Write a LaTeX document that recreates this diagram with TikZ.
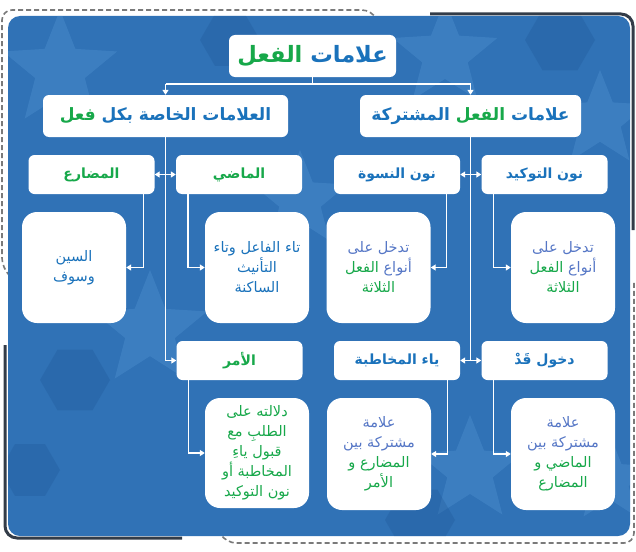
\documentclass[tikz,border=0pt]{standalone}
\usepackage{fontspec}
\usetikzlibrary{arrows.meta,shapes.geometric}
\TeXXeTstate=1
\newfontfamily\arabicfont[Script=Arabic]{DejaVu Sans}
\definecolor{tblue}{HTML}{1A72BB}
\definecolor{tgreen}{HTML}{17A84A}
\definecolor{pblue}{HTML}{5677C6}
\definecolor{bgblue}{HTML}{3072B6}
\definecolor{bglight}{HTML}{5A9BDA}
\definecolor{bgdark}{HTML}{1F5797}
\definecolor{framedark}{HTML}{333C48}
\definecolor{dashgray}{HTML}{7A7A7A}
\begin{document}
\begin{tikzpicture}[x=1pt,y=-1pt,
  hbox/.style={fill=white, rounded corners=6pt, inner sep=0pt, font=\arabicfont\bfseries},
  bodybox/.style={fill=white, rounded corners=15pt, inner sep=0pt, align=center,
    font=\arabicfont\fontsize{14.5}{20}\selectfont},
  wl/.style={draw=white, line width=1.4pt},
  tip/.style={-{Triangle[width=6pt,length=5pt]}},
  dtip/.style={{Triangle[width=6pt,length=5pt]}-{Triangle[width=6pt,length=5pt]}},
  lstar/.style={star, star points=5, star point ratio=2.3, fill=bglight, fill opacity=0.3, draw=none},
  dhex/.style={regular polygon, regular polygon sides=6, fill=bgdark, fill opacity=0.3, draw=none}
]
\useasboundingbox (0,0) rectangle (636,551);
% frames
\draw[dashgray, line width=1.6pt, dash pattern=on 5pt off 3pt, rounded corners=10pt]
  (10,276) -- (2,268) -- (2,10) -- (372,10) -- (378,22);
\draw[dashgray, line width=1.6pt, dash pattern=on 5pt off 3pt, rounded corners=10pt]
  (218,530) -- (226,543) -- (634,543) -- (634,282);
\draw[framedark, line width=3pt, rounded corners=12pt]
  (430,14) -- (633,14) -- (633,230);
\draw[framedark, line width=3pt, rounded corners=12pt]
  (5,345) -- (5,538) -- (182,538);
% background
\fill[bgblue, rounded corners=12pt] (8,16) rectangle (630,536);
\begin{scope}
\clip[rounded corners=12pt] (8,16) rectangle (630,536);
\node[lstar, minimum size=120pt] (s1) at (60,70) {};
\node[lstar, minimum size=110pt] (s2) at (445,55) {};
\node[lstar, minimum size=100pt] (s3) at (600,120) {};
\node[lstar, minimum size=120pt] (s4) at (150,330) {};
\node[lstar, minimum size=110pt] (s5) at (470,470) {};
\node[lstar, minimum size=90pt] (s6) at (610,480) {};
\node[lstar, minimum size=100pt] (s7) at (300,200) {};
\node[dhex, minimum size=70pt] (h1) at (75,380) {};
\node[dhex, minimum size=60pt] (h2) at (30,470) {};
\node[dhex, minimum size=70pt] (h3) at (560,40) {};
\node[dhex, minimum size=60pt] (h4) at (230,40) {};
\node[dhex, minimum size=70pt] (h5) at (420,520) {};
\end{scope}
% level 1
\node[hbox, minimum width=167pt, minimum height=42pt, font=\arabicfont\bfseries\fontsize{22.5}{26}\selectfont] (t) at (312.5,56)
  {\textcolor{tgreen}{\beginR الفعل\endR} \textcolor{tblue}{\beginR علامات\endR}};
% level 2
\node[hbox, minimum width=245pt, minimum height=42pt, font=\arabicfont\bfseries\fontsize{17}{20}\selectfont] (spec) at (165.5,116)
  {\textcolor{tgreen}{\beginR فعل\endR} \textcolor{tblue}{\beginR العلامات الخاصة بكل\endR}};
\node[hbox, minimum width=221pt, minimum height=42pt, font=\arabicfont\bfseries\fontsize{17}{20}\selectfont] (comm) at (470.5,116)
  {\textcolor{tblue}{\beginR المشتركة\endR} \textcolor{tgreen}{\beginR الفعل\endR} \textcolor{tblue}{\beginR علامات\endR}};
% level 3
\tikzset{l3/.style={hbox, minimum width=126pt, minimum height=39pt, font=\arabicfont\bfseries\fontsize{14}{16}\selectfont}}
\node[l3] (mud) at (91.5,174.5) {\textcolor{tgreen}{\beginR المضارع\endR}};
\node[l3] (mad) at (239,174.5) {\textcolor{tgreen}{\beginR الماضي\endR}};
\node[l3] (nis) at (397,174.5) {\textcolor{tblue}{\beginR نون النسوة\endR}};
\node[l3] (taw) at (544.5,174.5) {\textcolor{tblue}{\beginR نون التوكيد\endR}};
\node[l3] (amr) at (239.5,360.5) {\textcolor{tgreen}{\beginR الأمر\endR}};
\node[l3] (ya) at (397,360.5) {\textcolor{tblue}{\beginR ياء المخاطبة\endR}};
\node[l3] (qad) at (544.5,360.5) {\textcolor{tblue}{\beginR دخول قَدْ\endR}};
% bodies
\tikzset{bb/.style={bodybox, minimum width=104pt, minimum height=111pt}}
\node[bb] (b1) at (74,267.5) {\textcolor{tblue}{\beginR السين\endR}\\\textcolor{tblue}{\beginR وسوف\endR}};
\node[bb] (b2) at (257,267.5) {\textcolor{tblue}{\beginR تاء الفاعل وتاء\endR}\\\textcolor{tblue}{\beginR التأنيث\endR}\\\textcolor{tblue}{\beginR الساكنة\endR}};
\node[bb] (b3) at (378.5,267.5) {\textcolor{pblue}{\beginR تدخل على\endR}\\\textcolor{tgreen}{\beginR الفعل\endR} \textcolor{pblue}{\beginR أنواع\endR}\\\textcolor{tgreen}{\beginR الثلاثة\endR}};
\node[bb] (b4) at (563,267.5) {\textcolor{pblue}{\beginR تدخل على\endR}\\\textcolor{tgreen}{\beginR الفعل\endR} \textcolor{pblue}{\beginR أنواع\endR}\\\textcolor{tgreen}{\beginR الثلاثة\endR}};
\node[bb, minimum height=110pt] (b5) at (257,453) {\textcolor{tgreen}{\beginR دلالته على\endR}\\\textcolor{tgreen}{\beginR الطلبِ مع\endR}\\\textcolor{tgreen}{\beginR قبول ياءِ\endR}\\\textcolor{tgreen}{\beginR المخاطبة أو\endR}\\\textcolor{tgreen}{\beginR نون التوكيد\endR}};
\node[bb, minimum height=112pt] (b6) at (379,454) {\textcolor{pblue}{\beginR علامة\endR}\\\textcolor{pblue}{\beginR مشتركة بين\endR}\\\textcolor{tgreen}{\beginR المضارع و\endR}\\\textcolor{tgreen}{\beginR الأمر\endR}};
\node[bb, minimum height=112pt] (b7) at (563,454) {\textcolor{pblue}{\beginR علامة\endR}\\\textcolor{pblue}{\beginR مشتركة بين\endR}\\\textcolor{tgreen}{\beginR الماضي و\endR}\\\textcolor{tgreen}{\beginR المضارع\endR}};
% connectors top
\coordinate (hm) at (t.south |- 0,84);
\coordinate (hl) at (spec.north |- hm);
\coordinate (hr) at (comm.north |- hm);
\draw[wl] (t.south) -- (hm);
\draw[wl] (hl) -- (hr);
\draw[wl, tip] (hl) -- (spec.north);
\draw[wl, tip] (hr) -- (comm.north);
% spines
\draw[wl, tip] (spec.south) |- (amr.west);
\draw[wl] (comm.south) -- (comm.south |- ya.east);
\draw[wl, dtip] (mud.east) -- (mad.west);
\draw[wl, dtip] (nis.east) -- (taw.west);
\draw[wl, dtip] (ya.east) -- (qad.west);
% box to body
\draw[wl, tip] ([xshift=-11pt]mud.south east) |- (b1.east);
\draw[wl, tip] ([xshift=12pt]mad.south west) |- (b2.west);
\draw[wl, tip] ([xshift=-14pt]nis.south east) |- (b3.east);
\draw[wl, tip] ([xshift=12pt]taw.south west) |- (b4.west);
\draw[wl, tip] ([xshift=12pt]amr.south west) |- (b5.west);
\draw[wl, tip] ([xshift=-13pt]ya.south east) |- (b6.east);
\draw[wl, tip] ([xshift=12pt]qad.south west) |- (b7.west);
\end{tikzpicture}
\end{document}
